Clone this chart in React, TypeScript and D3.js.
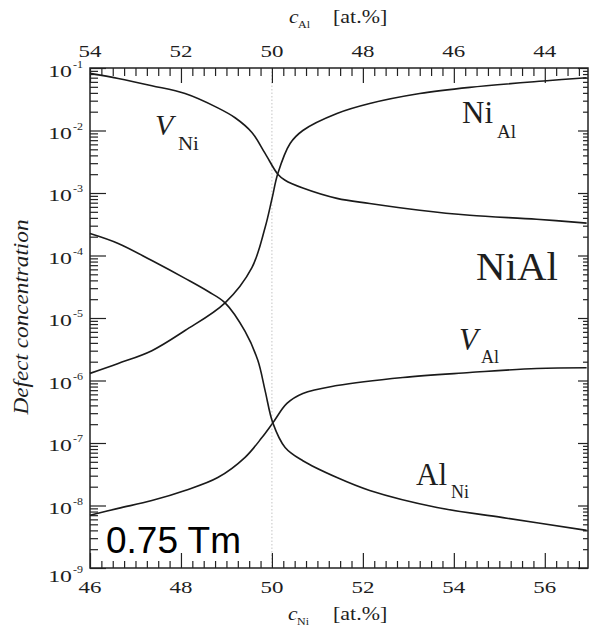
import React, { useEffect, useRef } from 'react';
import * as d3 from 'd3';

// tick values
const niTicks = [46, 48, 50, 52, 54, 56];
const alTicks = [54, 52, 50, 48, 46, 44];
const yExps = [-1, -2, -3, -4, -5, -6, -7, -8, -9];

// V_Ni (vacancies on the Ni sublattice)
const vNiX = [46.0, 46.62, 47.36, 48.09, 48.81, 49.19, 49.56, 49.85, 50.13, 50.29, 50.68, 51.43, 52.15, 53.25, 54.35, 55.82, 56.92];
const vNiY = [8.2e-2, 6.8e-2, 5.2e-2, 3.9e-2, 2.3e-2, 1.6e-2, 9.3e-3, 4.3e-3, 2.0e-3, 1.6e-3, 1.2e-3, 8.2e-4, 6.8e-4, 5.3e-4, 4.4e-4, 3.8e-4, 3.3e-4];

// Ni_Al antisites
const niAlX = [46.0, 46.62, 47.36, 48.09, 48.97, 49.56, 49.85, 50.0, 50.13, 50.4, 50.68, 51.43, 52.15, 53.25, 54.35, 56.11, 56.92];
const niAlY = [1.3e-6, 1.87e-6, 3.0e-6, 6.3e-6, 1.75e-5, 6.4e-5, 2.8e-4, 8.0e-4, 2.05e-3, 6.2e-3, 1.0e-2, 1.87e-2, 2.7e-2, 3.9e-2, 4.9e-2, 6.3e-2, 7.0e-2];

// Al_Ni antisites
const alNiX = [46.0, 46.62, 47.36, 48.09, 48.6, 48.97, 49.41, 49.69, 49.85, 50.02, 50.29, 50.68, 51.43, 52.15, 53.63, 55.08, 56.92];
const alNiY = [2.25e-4, 1.56e-4, 8.3e-5, 4.3e-5, 2.65e-5, 1.75e-5, 6.1e-6, 2.1e-6, 6.9e-7, 2.1e-7, 8.5e-8, 5.2e-8, 2.8e-8, 1.74e-8, 9.3e-9, 6.4e-9, 4.0e-9];

// V_Al (vacancies on the Al sublattice)
const vAlX = [46.0, 46.62, 47.36, 48.09, 48.81, 49.41, 49.78, 50.02, 50.33, 50.68, 51.43, 52.88, 54.35, 55.82, 56.92];
const vAlY = [7.0e-9, 9.0e-9, 1.2e-8, 1.74e-8, 2.8e-8, 5.9e-8, 1.22e-7, 2.1e-7, 4.3e-7, 6.2e-7, 8.3e-7, 1.12e-6, 1.34e-6, 1.56e-6, 1.6e-6];

const serif = '"Liberation Serif", "Times New Roman", serif';

const App = () => {
  const svgRef = useRef<SVGSVGElement>(null);

  useEffect(() => {
    const w = 590, h = 635;
    const left = 90, right = 588, top = 68, bottom = 568;
    const svg = d3.select(svgRef.current);
    svg.selectAll('*').remove();

    const x = d3.scaleLinear().domain([46, 56.95]).range([left, right]);
    const xAl = d3.scaleLinear().domain([100 - 46, 100 - 56.95]).range([left, right]);
    const y = d3.scaleLog().domain([1e-9, 1e-1]).range([bottom, top]);

    const minorX = d3.range(46, 56.95, 0.25).filter(v => v % 2 !== 0);
    const minorAl = minorX.map(v => 100 - v);
    const majorY = yExps.map(e => Math.pow(10, e));
    const minorY: number[] = [];
    yExps.slice(1).forEach(e => {
      for (let k = 2; k <= 9; k++) minorY.push(k * Math.pow(10, e));
    });

    // dotted line at stoichiometry
    svg.append('line')
      .attr('x1', x(50)).attr('x2', x(50))
      .attr('y1', top).attr('y2', bottom)
      .attr('stroke', '#c4c4c4')
      .attr('stroke-dasharray', '1.5,2');

    // ticks via d3 axes, inward
    const tickAxis = (axis: any, tr: string) => {
      const g = svg.append('g').attr('transform', tr).call(axis);
      g.select('.domain').remove();
      g.selectAll('line').attr('stroke', '#222').attr('stroke-width', 1.2);
      g.selectAll('text').remove();
    };
    tickAxis(d3.axisBottom(x).tickValues(niTicks).tickSize(-15), `translate(0,${bottom})`);
    tickAxis(d3.axisBottom(x).tickValues(minorX).tickSize(-7), `translate(0,${bottom})`);
    tickAxis(d3.axisTop(xAl).tickValues(alTicks).tickSize(-15), `translate(0,${top})`);
    tickAxis(d3.axisTop(xAl).tickValues(minorAl).tickSize(-8), `translate(0,${top})`);
    tickAxis(d3.axisLeft(y).tickValues(majorY).tickSize(-16), `translate(${left},0)`);
    tickAxis(d3.axisLeft(y).tickValues(minorY).tickSize(-8), `translate(${left},0)`);
    tickAxis(d3.axisRight(y).tickValues(majorY).tickSize(-10), `translate(${right},0)`);
    tickAxis(d3.axisRight(y).tickValues(minorY).tickSize(-5), `translate(${right},0)`);

    // frame
    svg.append('rect')
      .attr('x', left).attr('y', top)
      .attr('width', right - left).attr('height', bottom - top)
      .attr('fill', 'none').attr('stroke', '#222').attr('stroke-width', 1.5);

    // curves
    const line = d3.line<[number, number]>()
      .x(d => x(d[0]))
      .y(d => y(d[1]))
      .curve(d3.curveCatmullRom.alpha(0.5));
    const series = [
      [vNiX, vNiY], [niAlX, niAlY], [alNiX, alNiY], [vAlX, vAlY]
    ];
    series.forEach(([xs, ys]) => {
      svg.append('path')
        .datum(xs.map((v, i) => [v, ys[i]] as [number, number]))
        .attr('d', line)
        .attr('fill', 'none')
        .attr('stroke', '#1a1a1a')
        .attr('stroke-width', 1.6);
    });

    // stretched text helper (the tick lettering in the figure is wide)
    const txt = (tx: number, ty: number, s: string, size: number, sx = 1, anchor = 'start', style = 'normal', family = serif) =>
      svg.append('text')
        .attr('transform', `translate(${tx},${ty}) scale(${sx},1)`)
        .attr('text-anchor', anchor)
        .attr('font-family', family)
        .attr('font-style', style)
        .attr('font-size', size)
        .attr('fill', '#1e1e1e')
        .text(s);

    // bottom & top tick labels
    niTicks.forEach(v => txt(x(v), 593, String(v), 17, 1.35, 'middle'));
    alTicks.forEach(v => txt(xAl(v), 57, String(v), 17, 1.35, 'middle'));

    // y tick labels 10^n
    yExps.forEach(e => {
      const ty = y(Math.pow(10, e));
      const off = e === -9 ? 14 : e === -1 ? 9 : 8;
      txt(72, ty + off, '10', 17, 1.4, 'end');
      txt(73, ty + off - 9, String(e), 10, 1.2, 'start');
    });

    // axis titles
    txt(289, 23, 'c', 18, 1.2, 'start', 'italic');
    txt(298, 28, 'Al', 10, 1.2, 'start');
    txt(333, 23, '[at.%]', 18, 1.22, 'start');
    txt(288, 620, 'c', 18, 1.2, 'start', 'italic');
    txt(297, 625, 'Ni', 10, 1.2, 'start');
    txt(333, 620, '[at.%]', 18, 1.22, 'start');

    svg.append('text')
      .attr('transform', `translate(28,317) rotate(-90)`)
      .attr('text-anchor', 'middle')
      .attr('font-family', serif)
      .attr('font-style', 'italic')
      .attr('font-size', 20)
      .attr('textLength', 195)
      .attr('lengthAdjust', 'spacingAndGlyphs')
      .attr('fill', '#1e1e1e')
      .text('Defect concentration');

    // curve labels
    txt(155, 135, 'V', 30, 1, 'start', 'italic');
    txt(178, 150, 'Ni', 19, 1.1);
    txt(462, 123, 'Ni', 31);
    txt(497, 138, 'Al', 19);
    txt(476, 280, 'NiAl', 41);
    txt(459, 350, 'V', 31, 1, 'start', 'italic');
    txt(481, 363, 'Al', 18);
    txt(416, 485, 'Al', 31);
    txt(451, 498, 'Ni', 18);

    svg.append('text')
      .attr('x', 106).attr('y', 553)
      .attr('font-family', '"Liberation Sans", Arial, sans-serif')
      .attr('font-size', 37)
      .attr('fill', '#000')
      .text('0.75 Tm');

    svg.attr('width', w).attr('height', h);
  }, []);

  return (
    <svg ref={svgRef} width={590} height={635}
      style={{ position: 'absolute', left: 0, top: 0, background: '#fff' }} />
  );
};

export default App;
